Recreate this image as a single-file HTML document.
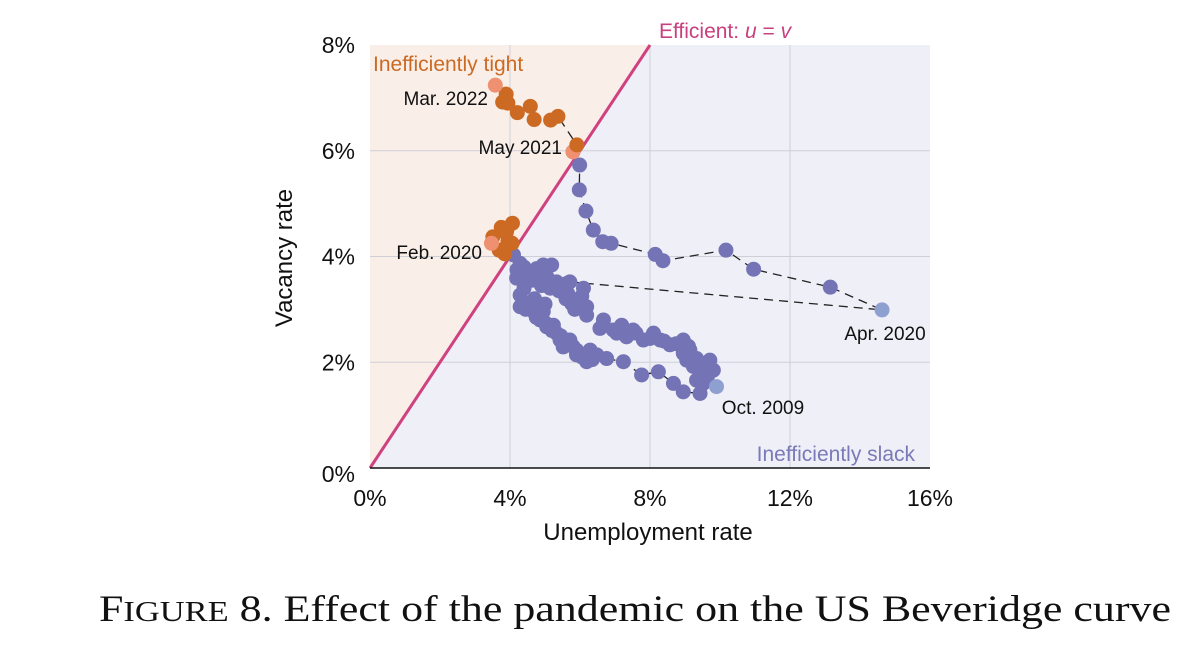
<!DOCTYPE html>
<html><head><meta charset="utf-8"><style>
html,body{margin:0;padding:0;background:#fff;}
svg{display:block;font-family:"Liberation Sans",Arial,sans-serif;}
</style></head><body>
<svg id="chart" width="1200" height="645" viewBox="0 0 1200 645">
<g id="bg"></g>
<g id="grid"></g>
<g id="lines"></g>
<g id="dots"></g>
<g id="axes"></g>
<text x="292" y="258" transform="rotate(-90 292 258)" text-anchor="middle" font-size="24" fill="#111">Vacancy rate</text>
<text x="648" y="540" text-anchor="middle" font-size="24" fill="#111">Unemployment rate</text>
<text x="725" y="38" text-anchor="middle" font-size="21" fill="#c8407e">Efficient: <tspan font-style="italic">u</tspan> = <tspan font-style="italic">v</tspan></text>
<text x="373" y="71" font-size="21" fill="#cc6a24">Inefficiently tight</text>
<text x="915" y="461" text-anchor="end" font-size="21" fill="#7a7ab8">Inefficiently slack</text>
<text x="488" y="105" text-anchor="end" font-size="19" fill="#111">Mar. 2022</text>
<text x="562" y="154" text-anchor="end" font-size="19" fill="#111">May 2021</text>
<text x="482" y="259" text-anchor="end" font-size="19" fill="#111">Feb. 2020</text>
<text x="885" y="340" text-anchor="middle" font-size="19" fill="#111">Apr. 2020</text>
<text x="763" y="414" text-anchor="middle" font-size="19" fill="#111">Oct. 2009</text>
<text x="635" y="621" text-anchor="middle" font-size="37" fill="#111" font-family="'Liberation Serif',serif" textLength="1072" lengthAdjust="spacingAndGlyphs">F<tspan font-size="29">IGURE</tspan> 8. Effect of the pandemic on the US Beveridge curve</text>
</svg>
<script>
// data (percent units)
const xTicks = [0, 4, 8, 12, 16];
const yTicks = [0, 2, 4, 6, 8];
const xTickLabels = ["0%", "4%", "8%", "12%", "16%"];
const yTickLabels = ["0%", "2%", "4%", "6%", "8%"];
// 2021-2022 tight path (May 2021 -> Mar 2022)
const tightU = [5.8, 5.91, 5.37, 5.16, 4.69, 4.58, 4.21, 3.94, 3.79, 3.89, 3.58];
const tightV = [5.98, 6.11, 6.65, 6.58, 6.59, 6.84, 6.72, 6.90, 6.92, 7.07, 7.24];
// pre-pandemic tight cluster (2018-2020)
const clusterU = [4.07, 3.91, 3.89, 3.51, 3.94, 3.69, 4.06, 3.75, 3.85, 3.47];
const clusterV = [4.63, 4.50, 4.44, 4.37, 4.28, 4.12, 4.25, 4.55, 4.05, 4.25];
// pandemic path (Mar 2020 -> Apr 2020 -> ... -> Apr 2021)
const pandemicU = [5.71, 14.63, 13.15, 10.96, 10.17, 8.37, 8.15, 6.89, 6.65, 6.38, 6.17, 5.98, 5.99, 5.8];
const pandemicV = [3.52, 2.99, 3.42, 3.76, 4.12, 3.92, 4.04, 4.25, 4.28, 4.50, 4.86, 5.26, 5.73, 5.98];
// 2000s-2010s slack cluster
const slackU = [4.10,4.29,4.19,4.48,4.76,4.95,5.19,5.05,5.33,5.62,5.52,5.76,6.00,6.10,6.19,6.19,
  4.29,4.29,4.57,4.67,4.95,4.86,5.05,5.24,5.33,5.43,5.52,5.71,5.90,5.90,6.19,6.29,6.48,
  6.67,6.57,6.95,7.19,7.33,7.52,7.81,8.10,8.29,8.57,8.95,8.95,9.05,9.33,9.71,9.81,9.52,9.33,9.24,9.14,
  4.35,4.55,4.85,5.10,4.40,4.70,5.00,5.65,6.05,
  4.20,4.40,4.62,4.90,5.15,5.40,5.60,5.85,4.45,4.75,5.00,5.20,5.45,5.65,5.80,6.05,6.35,
  7.05,7.60,8.00,8.40,8.75,9.10,9.45,9.65];
const slackV = [4.03,3.87,3.59,3.71,3.77,3.84,3.84,3.62,3.52,3.49,3.36,3.11,3.14,3.40,3.05,2.89,
  3.27,3.05,3.11,2.96,2.96,2.80,2.67,2.70,2.55,2.42,2.29,2.42,2.23,2.14,2.01,2.23,2.14,
  2.80,2.64,2.61,2.70,2.48,2.61,2.42,2.55,2.42,2.33,2.42,2.17,2.04,2.07,2.04,1.85,1.79,1.66,1.92,2.23,
  3.70,3.60,3.65,3.55,3.40,3.20,3.10,3.30,3.25,
  3.75,3.80,3.55,3.45,3.40,3.35,3.20,3.00,3.00,2.85,2.75,2.60,2.50,2.35,2.30,2.10,2.05,
  2.55,2.55,2.45,2.40,2.35,2.30,1.95,1.75];
// 2009 recession tail (toward Oct 2009)
const tailU = [6.76, 7.24, 7.76, 8.24, 8.67, 8.95, 9.43, 9.52, 9.90];
const tailV = [2.07, 2.01, 1.76, 1.82, 1.60, 1.44, 1.41, 1.60, 1.54];

const X0=370, X1=930, Y0=468, Y1=45;
const sx = u => X0 + (u/16)*(X1-X0);
const sy = v => Y0 - (v/8)*(Y0-Y1);
const NS="http://www.w3.org/2000/svg";
function mk(tag, attrs, parent){const e=document.createElementNS(NS,tag);for(const k in attrs)e.setAttribute(k,attrs[k]);parent.appendChild(e);return e;}
const bg=document.getElementById('bg'),grid=document.getElementById('grid'),lines=document.getElementById('lines'),dots=document.getElementById('dots'),axes=document.getElementById('axes');

let r=mk('rect',{x:X0,y:Y1,width:X1-X0,height:Y0-Y1,fill:'#efeff7'},bg);


let p=mk('polygon',{points:`${sx(0)},${sy(0)} ${sx(8)},${sy(8)} ${sx(0)},${sy(8)}`,fill:'#f9efe8'},bg);



xTicks.forEach((t,i)=>{
  if(t>0&&t<16){let g=mk('line',{x1:sx(t),x2:sx(t),y1:Y1,y2:Y0,stroke:'#cfcfd8','stroke-width':1},grid);
  
  }
  let tx=mk('text',{x:sx(t),y:506,'text-anchor':'middle','font-size':23,fill:'#111'},axes);
  tx.textContent=xTickLabels[i];
  
  
});
yTicks.forEach((t,i)=>{
  if(t>0&&t<8){let g=mk('line',{x1:X0,x2:X1,y1:sy(t),y2:sy(t),stroke:'#cfcfd8','stroke-width':1},grid);
  
  }
  let ty=mk('text',{x:355,y:sy(t)+(t===0?14:8),'text-anchor':'end','font-size':23,fill:'#111'},axes);
  ty.textContent=yTickLabels[i];
  
  
});
let xa=mk('line',{x1:X0,x2:X1,y1:Y0,y2:Y0,stroke:'#111','stroke-width':1.5},axes);



let eff=mk('line',{x1:sx(0),y1:sy(0),x2:sx(8),y2:sy(8),stroke:'#d0417f','stroke-width':3},grid);



function path(U,V,name){
  const d=U.map((u,i)=>(i?'L':'M')+sx(u)+','+sy(V[i])).join(' ');
  const e=mk('path',{d:d,fill:'none',stroke:'#222','stroke-width':1.3,'stroke-dasharray':'9,6'},lines);
  
  
}
path(pandemicU,pandemicV,'pandemic-path');
path(tightU,tightV,'tight-path');
path(tailU,tailV,'recession-tail-path');

function pts(U,V,col,name,light,lightIdx){
  U.forEach((u,i)=>{
    const c=mk('circle',{cx:sx(u),cy:sy(V[i]),r:7.5,fill:(lightIdx.includes(i)?light:col)},dots);
    
    
  });
}
const PUR='#7373b5', PURL='#8ea0d0', OR='#cc6a24', ORL='#ef9070';
pts(slackU,slackV,PUR,'slack-point',PURL,[]);
pts(tailU,tailV,PUR,'recession-point',PURL,[tailU.length-1]);
pts(pandemicU,pandemicV,PUR,'pandemic-point',PURL,[1]);
pts(clusterU,clusterV,OR,'tight-cluster-point',ORL,[clusterU.length-1]);
pts(tightU,tightV,OR,'tight-point',ORL,[0,tightU.length-1]);
</script>
</body></html>
